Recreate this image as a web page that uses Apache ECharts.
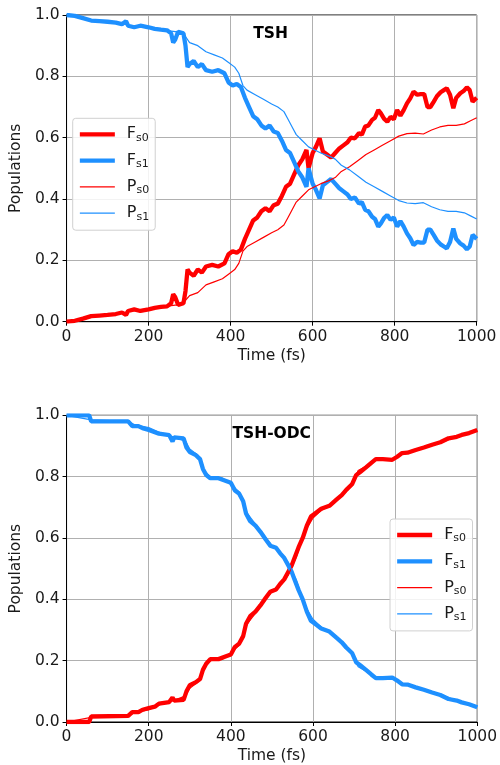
<!DOCTYPE html>
<html>
<head>
<meta charset="utf-8">
<script src="https://cdn.jsdelivr.net/npm/echarts@6/dist/echarts.min.js"></script>
<style>
html,body{margin:0;padding:0;background:#fff;}
#chart{width:500px;height:765px;}
</style>
</head>
<body>
<div id="chart"></div>
<script>
// ---------- data ----------
const seriesNames = ['Fs0', 'Fs1', 'Ps0', 'Ps1'];
const panelTitles = ['TSH', 'TSH-ODC'];
const yTickValues = [0, 0.2, 0.4, 0.6, 0.8, 1.0];
const xTickValues = [0, 200, 400, 600, 800, 1000];

// TSH panel: F curves
const tshT = [0,20,40,60,80,100,120,135,145,150,
  165,180,200,215,230,245,255,260,265,272,
  285,290,295,300,310,320,330,340,355,370,
  385,395,405,415,425,435,445,455,465,475,
  485,495,505,515,525,535,545,555,565,575,
  585,590,600,608,617,625,635,645,655,665,
  675,685,693,703,713,720,728,736,745,752,
  760,766,774,782,790,798,806,814,822,830,
  838,846,855,863,872,880,887,895,903,912,
  920,927,935,943,950,960,968,976,983,990,1000];
const tshFs0 = [0,0.003,0.01,0.018,0.02,0.022,0.025,0.03,0.022,0.035,
  0.04,0.035,0.04,0.045,0.048,0.05,0.06,0.09,0.08,0.055,
  0.06,0.1,0.17,0.16,0.15,0.17,0.16,0.18,0.185,0.18,
  0.19,0.22,0.23,0.225,0.235,0.27,0.30,0.33,0.34,0.36,
  0.37,0.36,0.38,0.385,0.41,0.44,0.45,0.48,0.51,0.53,
  0.56,0.50,0.55,0.57,0.598,0.555,0.545,0.535,0.55,0.565,
  0.575,0.585,0.60,0.598,0.615,0.61,0.636,0.64,0.658,0.665,
  0.69,0.68,0.662,0.652,0.668,0.66,0.69,0.672,0.69,0.712,
  0.728,0.75,0.74,0.742,0.742,0.70,0.70,0.717,0.735,0.748,
  0.755,0.761,0.74,0.696,0.73,0.745,0.752,0.764,0.755,0.717,0.73];
const tshFs1 = [1.0,0.997,0.99,0.982,0.98,0.978,0.975,0.97,0.98,0.965,
  0.96,0.965,0.96,0.955,0.952,0.95,0.94,0.91,0.92,0.945,
  0.94,0.90,0.83,0.84,0.85,0.83,0.84,0.82,0.815,0.82,
  0.81,0.78,0.77,0.775,0.765,0.73,0.70,0.67,0.66,0.64,
  0.63,0.64,0.62,0.615,0.59,0.56,0.55,0.52,0.49,0.47,
  0.44,0.50,0.45,0.43,0.402,0.445,0.455,0.465,0.45,0.435,
  0.425,0.415,0.40,0.405,0.385,0.39,0.365,0.36,0.342,0.335,
  0.31,0.32,0.338,0.348,0.332,0.34,0.31,0.328,0.31,0.288,
  0.272,0.25,0.26,0.258,0.258,0.30,0.30,0.283,0.265,0.252,
  0.245,0.239,0.26,0.304,0.27,0.255,0.248,0.236,0.245,0.283,0.27];
// TSH panel: P curves
const tshPT = [0,40,80,120,160,200,240,270,290,300,
  320,340,360,380,395,410,420,430,440,460,
  480,500,515,530,540,550,560,575,590,605,
  620,640,655,670,690,710,730,750,770,790,
  810,830,850,870,890,910,930,950,970,985,1000];
const tshPs0 = [0,0.01,0.02,0.025,0.035,0.04,0.05,0.055,0.07,0.085,
  0.095,0.12,0.13,0.14,0.155,0.17,0.19,0.23,0.245,0.26,
  0.275,0.29,0.30,0.315,0.34,0.365,0.39,0.41,0.43,0.44,
  0.45,0.46,0.47,0.49,0.505,0.525,0.545,0.56,0.575,0.59,
  0.605,0.613,0.615,0.612,0.625,0.635,0.64,0.64,0.645,0.655,0.665];
const tshPs1 = [1.0,0.99,0.98,0.975,0.965,0.96,0.95,0.945,0.93,0.91,
  0.9,0.88,0.87,0.86,0.845,0.83,0.81,0.77,0.755,0.74,
  0.725,0.71,0.70,0.685,0.66,0.635,0.61,0.59,0.57,0.56,
  0.55,0.54,0.53,0.51,0.495,0.475,0.455,0.44,0.425,0.41,
  0.395,0.387,0.385,0.388,0.375,0.365,0.36,0.36,0.355,0.345,0.335];

// TSH-ODC panel: F curves
const odcT = [0,55,60,150,160,175,185,200,215,225,
  250,258,262,285,292,300,315,325,332,340,
  350,370,390,400,410,420,430,437,447,460,
  472,485,496,510,520,530,540,548,555,565,
  575,585,595,605,620,640,657,670,681,695,
  705,715,729,742,753,770,793,805,817,830,
  850,870,890,910,930,950,962,980,1000];
const odcFs0 = [0,0,0.018,0.02,0.032,0.032,0.04,0.045,0.05,0.06,
  0.065,0.08,0.07,0.072,0.10,0.12,0.13,0.14,0.17,0.19,
  0.205,0.205,0.215,0.22,0.245,0.255,0.28,0.32,0.345,0.36,
  0.38,0.405,0.425,0.432,0.45,0.465,0.49,0.51,0.535,0.57,
  0.60,0.64,0.67,0.68,0.695,0.705,0.725,0.74,0.757,0.775,
  0.805,0.815,0.83,0.845,0.857,0.857,0.855,0.865,0.877,0.878,
  0.887,0.895,0.904,0.912,0.925,0.93,0.936,0.942,0.952];
const odcFs1 = [1,1,0.98,0.98,0.965,0.965,0.958,0.952,0.945,0.94,
  0.935,0.915,0.928,0.925,0.895,0.88,0.87,0.857,0.825,0.805,
  0.795,0.795,0.785,0.78,0.755,0.745,0.72,0.68,0.655,0.64,
  0.62,0.595,0.575,0.568,0.55,0.535,0.51,0.49,0.465,0.43,
  0.40,0.36,0.33,0.32,0.305,0.295,0.275,0.26,0.243,0.225,
  0.195,0.185,0.17,0.155,0.143,0.143,0.145,0.135,0.123,0.122,
  0.113,0.105,0.096,0.088,0.075,0.07,0.064,0.058,0.048];
// TSH-ODC panel: P curves
const odcPT = [0,60,150,165,200,230,260,290,300,320,
  335,350,380,400,420,440,460,480,500,520,
  540,560,580,600,620,650,680,700,710,730,
  750,800,820,860,900,940,1000];
const odcPs0 = [0,0.015,0.02,0.03,0.04,0.058,0.07,0.085,0.11,0.13,
  0.18,0.2,0.205,0.225,0.25,0.32,0.355,0.39,0.425,0.445,
  0.48,0.54,0.62,0.665,0.69,0.715,0.75,0.79,0.82,0.835,
  0.855,0.86,0.875,0.89,0.905,0.925,0.95];
const odcPs1 = [1,0.985,0.98,0.97,0.96,0.942,0.93,0.915,0.89,0.87,
  0.82,0.8,0.795,0.775,0.75,0.68,0.645,0.61,0.575,0.555,
  0.52,0.46,0.38,0.335,0.31,0.285,0.25,0.21,0.18,0.165,
  0.145,0.14,0.125,0.11,0.095,0.075,0.05];

// ---------- chart ----------
const RED = '#ff0000', BLUE = '#1e90ff';
const TXT = '#1a1a1a';
const FS = 15.5;
const THICK = 4.3, THIN = 1.2;
const pair = (t, v) => t.map((x, i) => [x, v[i]]);

const grids = [
  {left: 64.3, top: 15, width: 412.4, height: 306.7},
  {left: 64.3, top: 415.3, width: 414.7, height: 308}
];
const legendPos = [
  {left: 72.7, top: 118.3},
  {left: 390, top: 519}
];
const titleCenters = [{x: 270.5, y: 26}, {x: 271.7, y: 426}];

const panelData = [
  {F: [pair(tshT, tshFs0), pair(tshT, tshFs1)], P: [pair(tshPT, tshPs0), pair(tshPT, tshPs1)]},
  {F: [pair(odcT, odcFs0), pair(odcT, odcFs1)], P: [pair(odcPT, odcPs0), pair(odcPT, odcPs1)]}
];
const legendWidths = [THICK, THICK, THIN, THIN];

const option = {
  animation: false,
  backgroundColor: '#ffffff',
  title: panelTitles.map((t, i) => ({
    text: t, left: titleCenters[i].x, top: titleCenters[i].y, textAlign: 'center', padding: 0,
    textStyle: {fontFamily: 'DejaVu Sans', fontWeight: 'bold', fontSize: FS, color: '#000'}
  })),
  grid: grids.map(g => Object.assign({show: true, borderColor: '#000', borderWidth: 1, backgroundColor: 'transparent'}, g)),
  xAxis: grids.map((g, i) => ({
    type: 'value', gridIndex: i, min: 0, max: 1000, interval: 200,
    name: 'Time (fs)', nameLocation: 'middle', nameGap: 26,
    nameTextStyle: {fontFamily: 'DejaVu Sans', fontSize: FS, color: TXT},
    axisLine: {show: true, onZero: false, lineStyle: {color: '#000', width: 1}},
    axisTick: {show: true, inside: false, length: 4, lineStyle: {color: '#000'}},
    axisLabel: {margin: 7, fontFamily: 'DejaVu Sans', fontSize: FS, color: TXT,
      formatter: v => xTickValues.includes(v) ? String(v) : ''},
    splitLine: {show: true, lineStyle: {color: '#b0b0b0', width: 1}}
  })),
  yAxis: grids.map((g, i) => ({
    type: 'value', gridIndex: i, min: 0, max: 1, interval: 0.2,
    name: 'Populations', nameLocation: 'middle', nameGap: 32, nameRotate: 90,
    nameTextStyle: {fontFamily: 'DejaVu Sans', fontSize: FS, color: TXT},
    axisLine: {show: true, lineStyle: {color: '#000', width: 1}},
    axisTick: {show: true, inside: false, length: 4, lineStyle: {color: '#000'}},
    axisLabel: {margin: 7, fontFamily: 'DejaVu Sans', fontSize: FS, color: TXT,
      formatter: v => yTickValues.some(y => Math.abs(y - v) < 1e-9) ? v.toFixed(1) : ''},
    splitLine: {show: true, lineStyle: {color: '#b0b0b0', width: 1}}
  })),
  legend: legendPos.map((p, i) => ({
    orient: 'vertical', left: p.left, top: p.top,
    data: seriesNames.map((n, k) => ({
      name: n,
      itemStyle: {opacity: 0, borderWidth: 0},
      lineStyle: {width: legendWidths[k]}
    })),
    itemWidth: 35, itemHeight: 14, itemGap: 9.3,
    padding: [8, 6, 8, 5],
    backgroundColor: 'rgba(255,255,255,0.85)',
    borderColor: '#d0d0d0', borderWidth: 1, borderRadius: 3,
    selectedMode: false,
    formatter: n => '{a|' + n[0] + '}{b|' + n.slice(1) + '}',
    textStyle: {
      rich: {
        a: {fontFamily: 'DejaVu Sans', fontSize: 16, color: TXT, padding: [0, 0, 0, 7], lineHeight: 18},
        b: {fontFamily: 'DejaVu Sans', fontSize: 11, color: TXT, verticalAlign: 'bottom', lineHeight: 14}
      }
    }
  })),
  series: []
};

panelData.forEach((pd, i) => {
  option.series.push(
    {name: 'Fs0', type: 'line', xAxisIndex: i, yAxisIndex: i, data: pd.F[0], showSymbol: false, symbol: 'none',
      lineStyle: {color: RED, width: THICK}, itemStyle: {color: RED}, z: 2},
    {name: 'Fs1', type: 'line', xAxisIndex: i, yAxisIndex: i, data: pd.F[1], showSymbol: false, symbol: 'none',
      lineStyle: {color: BLUE, width: THICK}, itemStyle: {color: BLUE}, z: 2},
    {name: 'Ps0', type: 'line', xAxisIndex: i, yAxisIndex: i, data: pd.P[0], showSymbol: false, symbol: 'none',
      lineStyle: {color: RED, width: THIN}, itemStyle: {color: RED}, z: 3},
    {name: 'Ps1', type: 'line', xAxisIndex: i, yAxisIndex: i, data: pd.P[1], showSymbol: false, symbol: 'none',
      lineStyle: {color: BLUE, width: THIN}, itemStyle: {color: BLUE}, z: 3}
  );
});

const chart = echarts.init(document.getElementById('chart'), null, {renderer: 'canvas'});
chart.setOption(option);
</script>
</body>
</html>
